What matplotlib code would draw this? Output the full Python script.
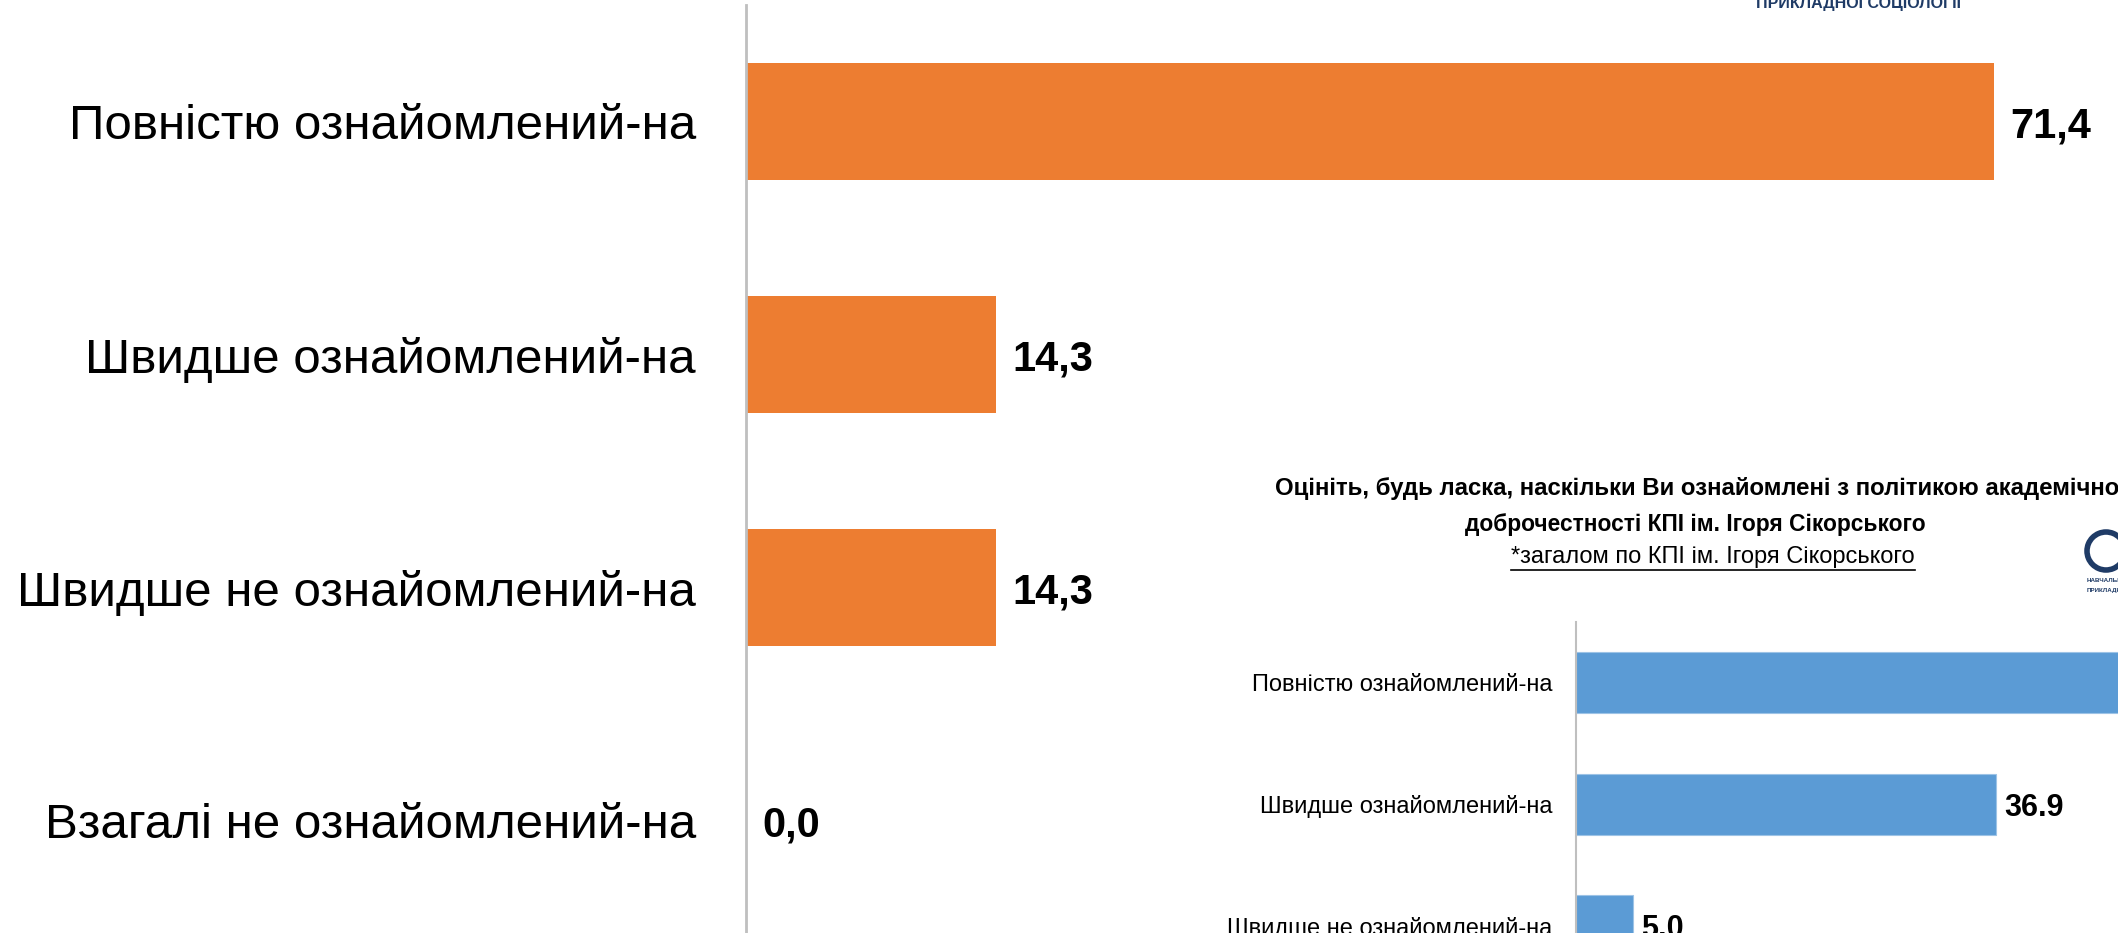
import matplotlib
matplotlib.use("Agg")
import matplotlib.pyplot as plt
from matplotlib.lines import Line2D
from matplotlib.patches import Arc

# ---- data: main chart ----
categories = ["Повністю ознайомлений-на", "Швидше ознайомлений-на",
              "Швидше не ознайомлений-на", "Взагалі не ознайомлений-на"]
values = [71.4, 14.3, 14.3, 0.0]

# ---- data: inset chart (partly visible) ----
inset_categories = ["Повністю ознайомлений-на", "Швидше ознайомлений-на",
                    "Швидше не ознайомлений-на", "Взагалі не ознайомлений-на"]
inset_values = [56.7, 36.9, 5.0, 1.4]
inset_title = ["Оцініть, будь ласка, наскільки Ви ознайомлені з політикою академічної",
               "доброчестності КПІ ім. Ігоря Сікорського"]
inset_subtitle = "*загалом по КПІ ім. Ігоря Сікорського"
logo_top_text = "ПРИКЛАДНОЇ СОЦІОЛОГІЇ"
logo_small_text = ["НАВЧАЛЬНО", "ПРИКЛАДНОЇ"]

W, H = 2118, 933
fig = plt.figure(figsize=(W / 100, H / 100), dpi=100)
fig.patch.set_facecolor("white")

def fx(px):
    return px / W

def fy(px_from_top):
    return 1 - px_from_top / H

ORANGE = "#ED7D31"
BLUE = "#5B9BD5"
GRID = "#BFBFBF"
NAVY = "#1F3B66"
FAM = ["Liberation Sans", "DejaVu Sans"]

# ---- main axes ----
px_per_unit = 17.48
spacing = 233.0
top_px = 121.6 - spacing / 2
xmax = 78
ax = fig.add_axes([fx(746), fy(top_px + 4 * spacing), fx(xmax * px_per_unit), 4 * spacing / H])
ypos = list(range(len(categories)))
ax.barh(ypos, values, height=0.5, color=ORANGE, edgecolor="none")
ax.set_xlim(0, xmax)
ax.set_ylim(len(categories) - 0.5, -0.5)
ax.set_yticks(ypos)
ax.set_yticklabels(categories, fontsize=35.5, family=FAM)
ax.tick_params(axis="y", length=0, pad=36)
ax.set_xticks([])
for s in ["top", "right", "bottom"]:
    ax.spines[s].set_visible(False)
ax.spines["left"].set_color(GRID)
ax.spines["left"].set_linewidth(2)
ax.set_facecolor("none")
for i, v in enumerate(values):
    ax.annotate(f"{v:.1f}".replace(".", ","), xy=(v, i), xytext=(12, 0),
                textcoords="offset points", va="center_baseline", ha="left",
                fontsize=30, fontweight="bold", family=FAM, color="black")

# ---- inset axes ----
ipx_per_unit = 11.39
ispacing = 121.5
itop = 622
ixmax = 60
iax = fig.add_axes([fx(1576), fy(itop + 4 * ispacing), fx(ixmax * ipx_per_unit), 4 * ispacing / H])
iypos = list(range(len(inset_categories)))
iax.barh(iypos, inset_values, height=0.5, color=BLUE, edgecolor="#9DC3E6", linewidth=0.8)
iax.set_xlim(0, ixmax)
iax.set_ylim(len(inset_categories) - 0.5, -0.5)
iax.set_yticks(iypos)
iax.set_yticklabels(inset_categories, fontsize=17, family=FAM)
iax.tick_params(axis="y", length=0, pad=17)
iax.set_xticks([])
for s in ["top", "right", "bottom"]:
    iax.spines[s].set_visible(False)
iax.spines["left"].set_color(GRID)
iax.spines["left"].set_linewidth(1.5)
iax.set_facecolor("none")
for i, v in enumerate(inset_values):
    iax.annotate(f"{v:.1f}", xy=(v, i), xytext=(6, 0),
                 textcoords="offset points", va="center_baseline", ha="left",
                 fontsize=22, fontweight="bold", family=FAM, color="black")

# inset title
fig.text(fx(1275), fy(488), inset_title[0], ha="left", va="center", fontsize=17.3,
         fontweight="bold", family=FAM)
fig.text(fx(1695), fy(524), inset_title[1], ha="center", va="center", fontsize=16.4,
         fontweight="bold", family=FAM)
sub = fig.text(fx(1713), fy(557), inset_subtitle, ha="center", va="center", fontsize=17,
               family=FAM)

# logo pieces
arc = Arc((fx(2106), fy(551)), width=38 / W, height=38 / H, theta1=0, theta2=360,
          transform=fig.transFigure, color=NAVY, linewidth=4)
fig.add_artist(arc)
fig.text(fx(2087), fy(581), logo_small_text[0], ha="left", va="center", fontsize=4.5,
         fontweight="bold", color=NAVY, family=FAM)
fig.text(fx(2087), fy(590), logo_small_text[1], ha="left", va="center", fontsize=4.5,
         fontweight="bold", color=NAVY, family=FAM)
fig.text(fx(1858), fy(8), logo_top_text, ha="center", va="baseline", fontsize=11.5,
         fontweight="bold", color=NAVY, family=FAM)

# underline for subtitle
fig.canvas.draw()
bb = sub.get_window_extent(renderer=fig.canvas.get_renderer())
uy = (bb.y0 - 2) / H
fig.add_artist(Line2D([bb.x0 / W, bb.x1 / W], [uy, uy], transform=fig.transFigure,
                      color="black", linewidth=1.2))

fig.savefig("out.png", dpi=100, facecolor="white")
